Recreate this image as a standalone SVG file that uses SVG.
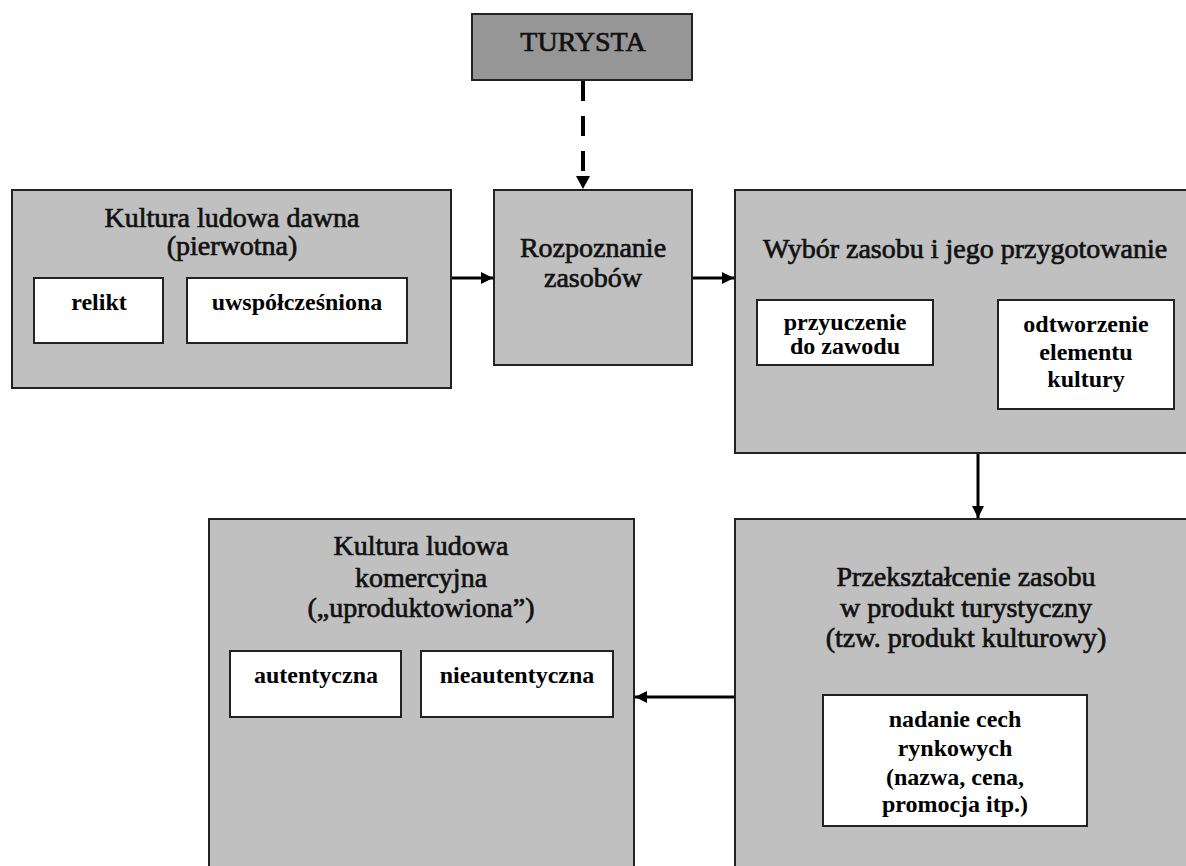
<svg xmlns="http://www.w3.org/2000/svg" width="1186" height="866" viewBox="0 0 1186 866">
<style>
.box{fill:#c0c0c0;stroke:#222;stroke-width:2}
.dark{fill:#969696;stroke:#222;stroke-width:2}
.inner{fill:#fff;stroke:#222;stroke-width:2}
.t{font-family:"Liberation Serif","Times New Roman",serif;font-size:28px;fill:#111;text-anchor:middle;stroke:#111;stroke-width:0.7}
.l{font-family:"Liberation Serif","Times New Roman",serif;font-size:24px;font-weight:bold;fill:#000;text-anchor:middle}
.c{stroke:#000;stroke-width:3;fill:none}
.d{stroke:#000;stroke-width:4;fill:none;stroke-dasharray:20 15}
</style>
<defs>
<marker id="ah" markerUnits="userSpaceOnUse" markerWidth="14" markerHeight="14" refX="12" refY="7" orient="auto">
<path d="M0,1 L12,7 L0,13 Z" fill="#000"/>
</marker>
</defs>
<g id="turysta">
<rect class="dark" x="472" y="14" width="220" height="66"/>
<text class="t" x="583" y="51">TURYSTA</text>
</g>
<g id="kultura-dawna">
<rect class="box" x="12" y="190" width="439" height="198"/>
<text class="t" x="232" y="227">Kultura ludowa dawna</text>
<text class="t" x="232" y="255">(pierwotna)</text>
<rect class="inner" x="34" y="278" width="129" height="65"/>
<text class="l" x="99" y="310">relikt</text>
<rect class="inner" x="187" y="278" width="220" height="65"/>
<text class="l" x="297" y="310">uwspółcześniona</text>
</g>
<g id="rozpoznanie">
<rect class="box" x="494" y="190" width="198" height="175"/>
<text class="t" x="593" y="257">Rozpoznanie</text>
<text class="t" x="593" y="287">zasobów</text>
</g>
<g id="wybor">
<rect class="box" x="735" y="190" width="461" height="263"/>
<text class="t" x="965" y="258">Wybór zasobu i jego przygotowanie</text>
<rect class="inner" x="757" y="300" width="176" height="65"/>
<text class="l" x="845" y="330">przyuczenie</text>
<text class="l" x="845" y="354">do zawodu</text>
<rect class="inner" x="998" y="300" width="176" height="109"/>
<text class="l" x="1086" y="332">odtworzenie</text>
<text class="l" x="1086" y="360">elementu</text>
<text class="l" x="1086" y="387">kultury</text>
</g>
<g id="kultura-komercyjna">
<rect class="box" x="209" y="519" width="425" height="360"/>
<text class="t" x="421" y="555">Kultura ludowa</text>
<text class="t" x="421" y="587">komercyjna</text>
<text class="t" x="421" y="617">(„uproduktowiona”)</text>
<rect class="inner" x="230" y="651" width="171" height="66"/>
<text class="l" x="316" y="683">autentyczna</text>
<rect class="inner" x="421" y="651" width="192" height="66"/>
<text class="l" x="517" y="683">nieautentyczna</text>
</g>
<g id="przeksztalcenie">
<rect class="box" x="735" y="519" width="461" height="360"/>
<text class="t" x="966" y="586">Przekształcenie zasobu</text>
<text class="t" x="966" y="617">w produkt turystyczny</text>
<text class="t" x="966" y="647">(tzw. produkt kulturowy)</text>
<rect class="inner" x="823" y="695" width="264" height="131"/>
<text class="l" x="955" y="727">nadanie cech</text>
<text class="l" x="955" y="756">rynkowych</text>
<text class="l" x="955" y="785">(nazwa, cena,</text>
<text class="l" x="955" y="812">promocja itp.)</text>
</g>
<g id="connectors">
<path class="d" d="M583,81 V176"/>
<path d="M576,176 L590,176 L583,189 Z" fill="#000"/>
<path class="c" d="M452,278 H493" marker-end="url(#ah)"/>
<path class="c" d="M693,278 H734" marker-end="url(#ah)"/>
<path class="c" d="M978,454 V518" marker-end="url(#ah)"/>
<path class="c" d="M734,697 H635" marker-end="url(#ah)"/>
</g>
</svg>
